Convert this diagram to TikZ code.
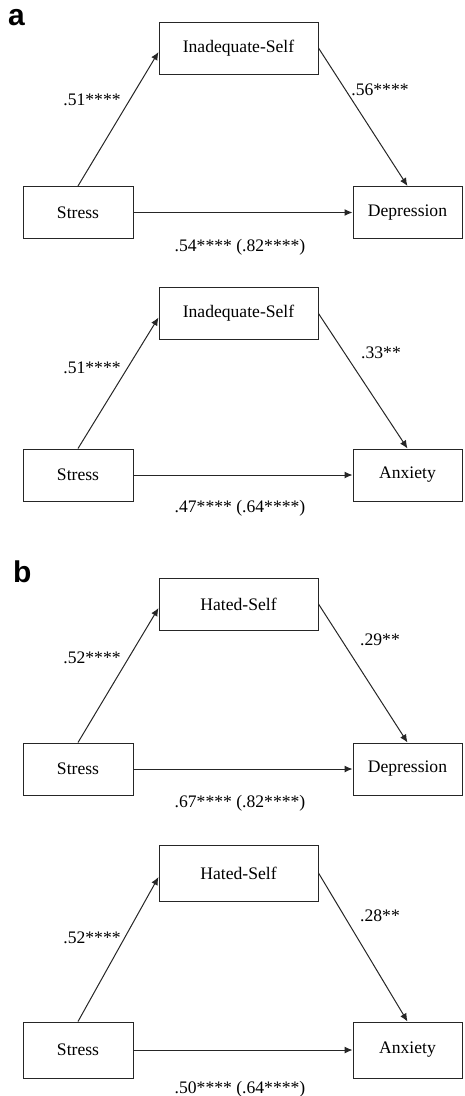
\documentclass[tikz,border=0pt]{standalone}
\usepackage{fontspec}
\setmainfont{Liberation Serif}
\newfontfamily\panelfont{Liberation Sans}
\usepackage{tikz}
\usetikzlibrary{arrows.meta, positioning}

\begin{document}
\begin{tikzpicture}[x=1pt, y=-1pt,
            varbox/.style={rectangle, draw=black!85, line width=1pt, minimum height=52pt, inner sep=0pt, align=center, font=\fontsize{17.6}{20}\selectfont},
            predbox/.style={varbox, minimum width=110pt},
            medbox/.style={varbox, minimum width=159pt},
            outcomebox/.style={varbox, minimum width=109pt},
            coef/.style={inner sep=0pt, font=\fontsize{17.6}{20}\selectfont},
            tag/.style={inner sep=0pt, anchor=base west, font=\panelfont\bfseries\fontsize{30}{32}\selectfont},
            arrow/.style={-{Latex[length=8pt, width=7pt]}, line width=1pt, draw=black!85}
        ]
\useasboundingbox (0,0) rectangle (464,1096);

% Panel a, Depression
            \node[tag] (taga) at (8,25) {a};
            \node[medbox] (inad1) at (238.5,48) {Inadequate-Self};
            \node[predbox] (stress1) at (78,212.5) {Stress};
            \node[outcomebox] (dep1) at (407.5,212.5) {Depression};
            \draw[arrow] (stress1.north) -- ([yshift=-4pt]inad1.west);
            \draw[arrow] (inad1.east) -- (dep1.north);
            \draw[arrow] (stress1.east) -- (dep1.west);
            \node[coef] (c1a) at (92,100) {.51****};
            \node[coef] (c1b) at (380,90) {.56****};
            \node[coef] (c1c) at (240,247) {.54**** (.82****)};

% Panel a, Anxiety
            \node[medbox] (inad2) at (238.5,313.5) {Inadequate-Self};
            \node[predbox] (stress2) at (78,475) {Stress};
            \node[outcomebox] (anx2) at (407.5,475) {Anxiety};
            \draw[arrow] (stress2.north) -- ([yshift=-4pt]inad2.west);
            \draw[arrow] (inad2.east) -- (anx2.north);
            \draw[arrow] (stress2.east) -- (anx2.west);
            \node[coef] (c2a) at (92,368) {.51****};
            \node[coef] (c2b) at (381,353) {.33**};
            \node[coef] (c2c) at (240,508) {.47**** (.64****)};

% Panel b, Depression
            \node[tag] (tagb) at (13,582) {b};
            \node[medbox] (hated3) at (238.5,604) {Hated-Self};
            \node[predbox] (stress3) at (78,769) {Stress};
            \node[outcomebox] (dep3) at (407.5,769) {Depression};
            \draw[arrow] (stress3.north) -- ([yshift=-4pt]hated3.west);
            \draw[arrow] (hated3.east) -- (dep3.north);
            \draw[arrow] (stress3.east) -- (dep3.west);
            \node[coef] (c3a) at (92,658) {.52****};
            \node[coef] (c3b) at (380,640) {.29**};
            \node[coef] (c3c) at (240,803) {.67**** (.82****)};

% Panel b, Anxiety
            \node[medbox, minimum height=56pt] (hated4) at (238.5,873) {Hated-Self};
            \node[predbox, minimum height=56pt] (stress4) at (78,1050) {Stress};
            \node[outcomebox, minimum height=56pt] (anx4) at (407.5,1050) {Anxiety};
            \draw[arrow] (stress4.north) -- ([yshift=-4pt]hated4.west);
            \draw[arrow] (hated4.east) -- (anx4.north);
            \draw[arrow] (stress4.east) -- (anx4.west);
            \node[coef] (c4a) at (92,938) {.52****};
            \node[coef] (c4b) at (380,916) {.28**};
            \node[coef] (c4c) at (240,1089) {.50**** (.64****)};

        \end{tikzpicture}
\end{document}
